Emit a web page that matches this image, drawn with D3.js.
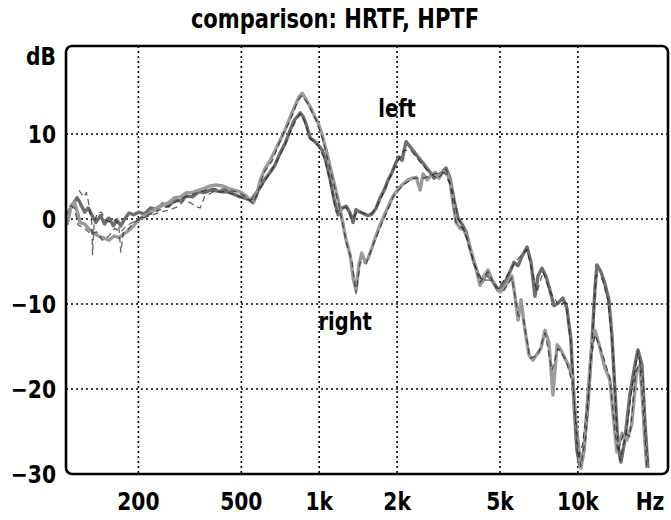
<!DOCTYPE html>
<html>
<head>
<meta charset="utf-8">
<script src="https://cdn.jsdelivr.net/npm/d3@7"></script>
<style>
  body { margin: 0; background: white; }
  text { font-family: "DejaVu Sans Condensed", "DejaVu Sans", sans-serif; font-weight: bold; fill: black; }
</style>
</head>
<body>
<div id="chart"></div>
<script>
// [Hz, dB]
const leftHrtf = [
  [106,0.5],[111,1.6],[116,2.5],[119,1.9],[124,0.8],[128,1.3],[132,0.5],[137,-0.4],[143,0.4],[148,-0.6],
  [154,0.1],[160,-0.8],[165,-0.1],[171,-0.8],[177,0],[184,0.7],[192,0.5],[200,0.8],[211,0.6],[223,1.3],
  [235,1.1],[248,1.8],[261,1.5],[276,2.2],[291,2.1],[307,2.7],[324,2.6],[342,3.2],[360,3.1],[379,3.4],
  [400,3.3],[422,3.2],[445,3.2],[470,2.9],[495,2.6],[523,2.4],[542,2.2],[560,2.7],[582,3.4],[603,4.2],
  [624,4.9],[647,5.5],[676,6.4],[707,7.8],[739,8.9],[773,10.5],[800,11.6],[822,12.0],[845,12.5],[868,12.0],
  [891,11.1],[923,9.5],[956,9.2],[991,8.7],[1027,8.1],[1064,6.7],[1103,4.6],[1143,2.2],[1184,0.5],[1227,1.3],
  [1271,1.5],[1317,0.7],[1352,-0.4],[1388,1.1],[1440,0.8],[1493,0.6],[1547,0.4],[1602,0.6],[1661,1.3],[1720,2.5],
  [1783,3.4],[1847,4.6],[1914,5.5],[1983,6.7],[2036,7.3],[2090,6.9],[2167,9.1],[2246,8.5],[2327,7.9],[2411,7.3],
  [2499,6.7],[2589,6.1],[2683,5.5],[2780,4.8],[2880,5.1],[2984,5.5],[3092,6.0],[3205,4.8],[3321,2.2],[3441,0.1],
  [3565,-0.6],[3694,-1.5],[3829,-3.4],[3967,-5.1],[4110,-6.5],[4259,-7.4],[4413,-6.5],[4574,-6.9],[4739,-7.6],[4911,-8.4],
  [5088,-7.9],[5272,-7.2],[5465,-6.2],[5660,-5.1],[5870,-5.5],[6080,-4.4],[6360,-3.3],[6590,-5.1],[6825,-9.1],[7010,-6.7],
  [7260,-5.8],[7520,-6.7],[7800,-8.4],[8080,-10.2],[8380,-9.9],[8750,-9.3],[9070,-10.5],[9400,-14.2],[9640,-21.3],[9910,-27.2],
  [10180,-29.1],[10550,-27.2],[10930,-21.9],[11320,-14.8],[11630,-8.4],[11840,-5.4],[12270,-6.2],[12710,-7.6],[13170,-9.5],[13530,-13.6],
  [13900,-20.1],[14280,-26.6],[14670,-28.6],[15190,-26.0],[15880,-20.7],[16600,-17.2],[17070,-15.4],[17680,-17.2],[18140,-23.6],[18630,-29.1]
];

const rightHrtf = [
  [106,-0.7],[110,1.6],[113,2.0],[117,0.5],[119,-0.4],[124,-0.6],[128,-1.1],[134,-1.6],[140,-2.0],[146,-2.2],
  [154,-2.5],[161,-2.0],[168,-2.2],[175,-1.8],[184,-1.3],[192,-0.8],[200,-0.1],[211,0.4],[223,0.7],[235,1.3],
  [248,1.6],[261,1.9],[276,2.5],[291,2.6],[307,3.1],[324,3.1],[342,3.4],[360,3.6],[379,3.9],[400,4.0],
  [422,3.9],[445,3.6],[470,3.4],[495,3.2],[523,2.7],[542,2.1],[556,1.9],[570,2.6],[592,4.6],[619,6.0],
  [647,6.9],[676,8.1],[707,9.3],[739,10.5],[773,12.0],[808,13.4],[837,14.4],[860,14.8],[891,14.0],[923,13.2],
  [956,12.2],[991,11.3],[1027,9.9],[1064,8.1],[1103,6.1],[1143,4.2],[1184,2.2],[1227,-0.1],[1271,-2.5],[1317,-4.2],
  [1352,-6.9],[1388,-8.4],[1424,-5.4],[1461,-4.0],[1505,-5.1],[1547,-4.6],[1602,-3.3],[1661,-1.9],[1720,-0.7],[1783,0.4],
  [1847,1.4],[1914,2.5],[1983,3.2],[2054,3.8],[2129,4.2],[2206,4.6],[2286,4.8],[2369,4.9],[2455,3.4],[2520,5.3],
  [2612,4.6],[2707,5.1],[2805,5.5],[2906,4.8],[3012,5.6],[3121,5.4],[3205,4.4],[3290,1.9],[3380,-0.4],[3503,-1.1],
  [3630,-1.3],[3762,-2.5],[3898,-4.2],[4040,-5.8],[4185,-7.8],[4336,-6.7],[4493,-6.0],[4656,-7.2],[4825,-7.9],[5000,-8.6],
  [5180,-8.1],[5370,-7.4],[5560,-6.7],[5713,-9.1],[5870,-11.9],[6030,-9.5],[6244,-13.1],[6470,-16.0],[6705,-16.6],[6950,-15.9],
  [7200,-15.2],[7460,-13.1],[7730,-14.6],[8010,-20.7],[8310,-14.8],[8600,-15.4],[8910,-16.4],[9230,-17.3],[9560,-18.9],[9820,-23.6],
  [10090,-27.2],[10270,-29.3],[10550,-27.4],[10930,-20.7],[11320,-14.8],[11630,-13.1],[12160,-15.1],[12710,-17.5],[13290,-18.9],[13650,-22.7],
  [14150,-27.4],[14800,-25.2],[15460,-26.0],[16140,-24.2],[16850,-18.0],[17350,-17.2],[17680,-20.1],[18140,-26.0],[18460,-29.3]
];

const leftHptf = [
  [118,3.4],[119,3.2],[123,2.6],[126,3.1],[129,1.6],[132,-0.4],[133,-4.2],[135,-0.4],[139,0.7],[144,0.8],
  [149,-0.1],[156,-0.4],[163,-0.1],[168,-0.8],[171,-3.9],[175,-1.6],[184,-1.1],[192,-0.4],[204,0],[223,0.4],
  [243,0.8],[266,1.1],[286,1.5],[301,2.2],[318,1.9],[338,1.4],[347,1.3],[360,2.6],[390,3.2],[426,3.2],
  [466,2.9],[495,2.6],[542,2.2],[570,2.6],[603,4.0],[647,5.5],[707,7.5],[773,10.2],[822,11.9],[845,12.4],
  [875,11.6],[923,9.5],[991,8.6],[1045,7.2],[1103,4.4],[1163,0.8],[1205,1.1],[1271,1.4],[1340,-0.1],[1402,0.9],
  [1519,0.6],[1602,0.7],[1720,2.2],[1847,4.4],[1983,6.5],[2129,8.1],[2286,7.9],[2455,6.7],[2683,5.3],[2880,4.8],
  [3092,5.8],[3263,3.4],[3441,0.1],[3694,-1.8],[3967,-5.3],[4259,-7.2],[4574,-7.2],[4911,-8.1],[5272,-6.9],[5660,-5.3],
  [5973,-4.4],[6360,-3.6],[6640,-6.0],[6950,-8.6],[7330,-6.2],[7800,-8.6],[8380,-10.0],[8990,-9.8],[9400,-14.8],[9730,-22.5],
  [9990,-28.1],[10410,-26.6],[10930,-21.3],[11430,-13.1],[11740,-6.6],[12380,-6.9],[13050,-9.5],[13650,-15.4],[14150,-24.8],[14530,-28.4],
  [15330,-25.4],[16140,-20.1],[17070,-15.6],[17840,-18.9],[18300,-26.0],[18800,-29.3]
];

const rightHptf = [
  [109,1.6],[113,1.3],[117,-0.7],[124,-1.1],[131,-1.8],[138,-1.5],[145,-2.5],[154,-2.0],[162,-1.1],[171,-1.5],
  [180,-0.8],[190,-0.4],[204,0.1],[223,0.6],[243,1.1],[266,1.6],[291,2.4],[318,2.8],[347,3.2],[386,3.6],
  [430,3.5],[478,3.2],[523,2.6],[556,1.8],[582,3.4],[613,5.5],[660,6.9],[720,9.8],[773,11.6],[829,14.0],
  [860,14.5],[907,13.5],[973,11.6],[1027,9.6],[1103,5.8],[1184,2.0],[1271,-2.7],[1340,-5.1],[1388,-8.8],[1440,-5.1],
  [1519,-5.3],[1632,-2.7],[1783,0.1],[1940,2.7],[2129,4.1],[2327,4.8],[2540,4.8],[2780,5.3],[3040,5.5],[3205,4.1],
  [3380,-0.4],[3630,-1.3],[3898,-4.4],[4185,-7.5],[4493,-6.2],[4825,-8.1],[5180,-8.4],[5560,-6.9],[5870,-11.3],[6170,-11.9],
  [6528,-16.4],[7010,-16.0],[7460,-13.4],[7940,-17.8],[8380,-15.2],[8990,-16.6],[9560,-19.5],[9990,-26.6],[10270,-29.1],[10740,-25.4],
  [11220,-16.6],[11630,-13.6],[12490,-16.0],[13290,-18.7],[13900,-24.8],[14280,-27.4],[15060,-25.1],[15880,-25.6],[16740,-18.0],[17350,-16.8],
  [17990,-23.6],[18460,-29.1]
];

const xTicks = [200, 500, 1000, 2000, 5000, 10000];
const xTickLabels = ["200", "500", "1k", "2k", "5k", "10k"];
const yTicks = [10, 0, -10, -20, -30];

const width = 671, height = 520;
const plot = {left: 66, right: 668, top: 46, bottom: 474};

var svg = d3.select("#chart")
    .append("svg")
    .attr("width", width)
    .attr("height", height);

var x = d3.scaleLog()
    .domain([105, 22300])
    .range([plot.left, plot.right]);

var y = d3.scaleLinear()
    .domain([-30, 20.35])
    .range([plot.bottom, plot.top]);

svg.append("defs").append("clipPath")
    .attr("id", "plotclip")
    .append("rect")
    .attr("x", plot.left)
    .attr("y", plot.top)
    .attr("width", plot.right - plot.left)
    .attr("height", plot.bottom - plot.top);

svg.append("rect")
    .attr("x", plot.left)
    .attr("y", plot.top)
    .attr("width", plot.right - plot.left)
    .attr("height", plot.bottom - plot.top)
    .attr("fill", "white");

// dotted grid
svg.append("g").selectAll("line")
    .data(xTicks)
    .join("line")
    .attr("x1", d => x(d))
    .attr("x2", d => x(d))
    .attr("y1", plot.top)
    .attr("y2", plot.bottom)
    .attr("stroke", "black")
    .attr("stroke-width", 1.6)
    .attr("stroke-dasharray", "2,3");

svg.append("g").selectAll("line")
    .data(yTicks.filter(d => d > -30))
    .join("line")
    .attr("x1", plot.left)
    .attr("x2", plot.right)
    .attr("y1", d => y(d))
    .attr("y2", d => y(d))
    .attr("stroke", "black")
    .attr("stroke-width", 1.6)
    .attr("stroke-dasharray", "2,3");

var line = d3.line()
    .x(d => x(d[0]))
    .y(d => y(d[1]));

var curves = svg.append("g").attr("clip-path", "url(#plotclip)");

curves.append("path")
    .datum(leftHrtf)
    .attr("fill", "none")
    .attr("stroke", "#6e6e6e")
    .attr("stroke-width", 3.4)
    .attr("stroke-linejoin", "round")
    .attr("d", line);

curves.append("path")
    .datum(rightHrtf)
    .attr("fill", "none")
    .attr("stroke", "#9a9a9a")
    .attr("stroke-width", 3.4)
    .attr("stroke-linejoin", "round")
    .attr("d", line);

[leftHptf, rightHptf].forEach(series => {
    curves.append("path")
        .datum(series)
        .attr("fill", "none")
        .attr("stroke", "#1e1e1e")
        .attr("stroke-width", 1.3)
        .attr("stroke-dasharray", "6,4")
        .attr("stroke-linejoin", "round")
        .attr("opacity", 0.7)
        .attr("d", line);
});

// frame
svg.append("rect")
    .attr("x", plot.left)
    .attr("y", plot.top)
    .attr("width", plot.right - plot.left)
    .attr("height", plot.bottom - plot.top)
    .attr("rx", 6)
    .attr("ry", 6)
    .attr("fill", "none")
    .attr("stroke", "black")
    .attr("stroke-width", 2.6);

// labels, narrowed a little to match the condensed face of the original
function label(px, py, txt, size, anchor) {
    svg.append("text")
        .attr("transform", `translate(${px},${py}) scale(0.9,1)`)
        .attr("text-anchor", anchor)
        .attr("font-size", size + "px")
        .text(txt);
}

label(335, 28, "comparison: HRTF, HPTF", 26, "middle");
label(56, 65, "dB", 25, "end");

yTicks.forEach(d => {
    label(56, y(d) + 9, d < 0 ? "\u2212" + Math.abs(d) : String(d), 25, "end");
});

xTicks.forEach((d, i) => {
    label(x(d), 510, xTickLabels[i], 25, "middle");
});

label(650, 510, "Hz", 25, "middle");
label(x(2000), 117, "left", 24, "middle");
label(x(1260), 330, "right", 24, "middle");
</script>
</body>
</html>
